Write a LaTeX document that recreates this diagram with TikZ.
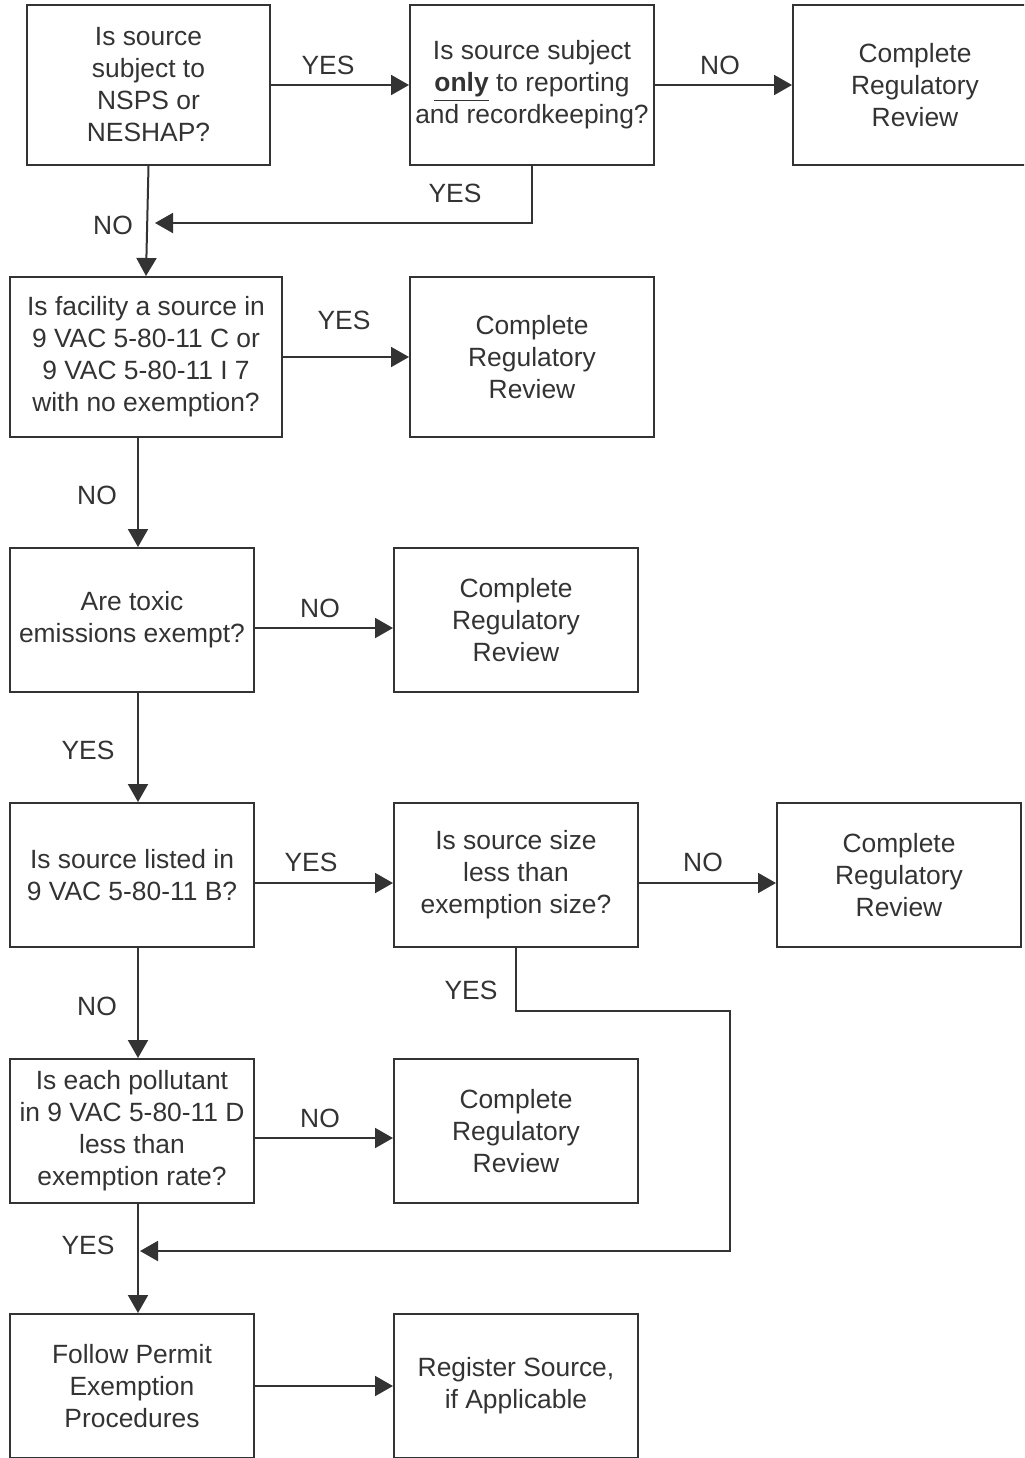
\documentclass[tikz,border=0pt]{standalone}
\usepackage{fontspec}
\setmainfont{Liberation Sans}
\usetikzlibrary{arrows.meta}
\definecolor{inkgray}{HTML}{333333}
\tikzset{
    box/.style={
        draw=inkgray, line width=1pt, text=inkgray, align=center,
        minimum width=122pt, inner sep=0pt,
        font=\fontsize{13.2}{16}\selectfont
    },
    lbl/.style={
        text=inkgray, inner sep=0pt,
        font=\fontsize{13.2}{16}\selectfont
    },
    arr/.style={
        draw=inkgray, line width=1pt, -{Triangle[length=9pt,width=10pt]}
    }
}

\begin{document}
\begin{tikzpicture}[x=0.5pt,y=-0.5pt, line join=miter]

\clip (0,0) rectangle (1024,1458);

\def\hT{80pt}
\def\hS{72pt}

% row 1
\node[box, minimum height=\hT, minimum width=121.5pt] (nsps) at (148.5,85)
    {Is source\\subject to\\NSPS or\\NESHAP?};
\node[box, minimum height=\hT] (onlyrep) at (532,85)
    {Is source subject\\\underline{\textbf{only}} to reporting\\and recordkeeping?};
\node[box, minimum height=\hT] (crr1) at (915,85)
    {Complete\\Regulatory\\Review};

% row 2
\node[box, minimum height=\hT, minimum width=136pt] (vac) at (146,357)
    {Is facility a source in\\9 VAC 5-80-11 C or\\9 VAC 5-80-11 I 7\\with no exemption?};
\node[box, minimum height=\hT] (crr2) at (532,357)
    {Complete\\Regulatory\\Review};

% row 3
\node[box, minimum height=\hS] (toxic) at (132,620)
    {Are toxic\\emissions exempt?};
\node[box, minimum height=\hS] (crr3) at (516,620)
    {Complete\\Regulatory\\Review};

% row 4
\node[box, minimum height=\hS] (listed) at (132,875)
    {Is source listed in\\9 VAC 5-80-11 B?};
\node[box, minimum height=\hS] (size) at (516,875)
    {Is source size\\less than\\exemption size?};
\node[box, minimum height=\hS] (crr4) at (899,875)
    {Complete\\Regulatory\\Review};

% row 5
\node[box, minimum height=\hS] (pollut) at (132,1131)
    {Is each pollutant\\in 9 VAC 5-80-11 D\\less than\\exemption rate?};
\node[box, minimum height=\hS] (crr5) at (516,1131)
    {Complete\\Regulatory\\Review};

% row 6
\node[box, minimum height=\hS] (follow) at (132,1386)
    {Follow Permit\\Exemption\\Procedures};
\node[box, minimum height=\hS] (register) at (516,1386)
    {Register Source,\\if Applicable};

% spine of the left column and free ends of the return lines
\coordinate (spine) at (138,0);
\coordinate (back1) at (155,223);
\coordinate (back2) at (140,1251);

% connectors
\draw[arr] (nsps.east) -- (onlyrep.west);
\draw[arr] (onlyrep.east) -- (crr1.west);
\draw[arr] (onlyrep.south) |- (back1);
\draw[arr] (nsps.south) -- (vac.north);
\draw[arr] (vac.east) -- (crr2.west);
\draw[arr] (vac.south -| spine) -- (toxic.north -| spine);
\draw[arr] ([yshift=-4pt]toxic.east) -- ([yshift=-4pt]crr3.west);
\draw[arr] (toxic.south -| spine) -- (listed.north -| spine);
\draw[arr] ([yshift=-4pt]listed.east) -- ([yshift=-4pt]size.west);
\draw[arr] ([yshift=-4pt]size.east) -- ([yshift=-4pt]crr4.west);
\draw[arr] (size.south) |- (730,1011) |- (back2);
\draw[arr] (listed.south -| spine) -- (pollut.north -| spine);
\draw[arr] ([yshift=-3.5pt]pollut.east) -- ([yshift=-3.5pt]crr5.west);
\draw[arr] (pollut.south -| spine) -- (follow.north -| spine);
\draw[arr] (follow.east) -- (register.west);

% labels
\node[lbl] (l1) at (328,65) {YES};
\node[lbl] (l2) at (720,65) {NO};
\node[lbl] (l3) at (455,193) {YES};
\node[lbl] (l4) at (113,225) {NO};
\node[lbl] (l5) at (344,320) {YES};
\node[lbl] (l6) at (97,495) {NO};
\node[lbl] (l7) at (320,608) {NO};
\node[lbl] (l8) at (88,750) {YES};
\node[lbl] (l9) at (311,862) {YES};
\node[lbl] (l10) at (703,862) {NO};
\node[lbl] (l11) at (471,990) {YES};
\node[lbl] (l12) at (97,1006) {NO};
\node[lbl] (l13) at (320,1118) {NO};
\node[lbl] (l14) at (88,1245) {YES};

\end{tikzpicture}
\end{document}
